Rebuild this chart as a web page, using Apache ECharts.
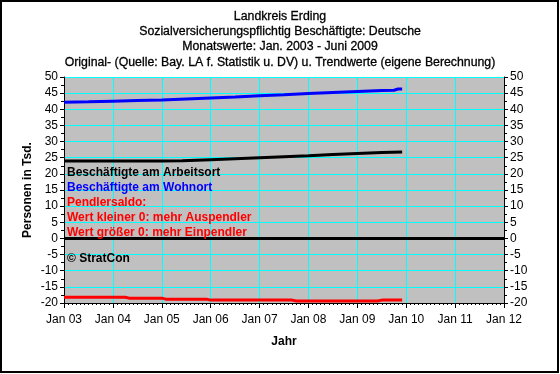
<!DOCTYPE html>
<html>
<head>
<meta charset="utf-8">
<script src="https://cdn.jsdelivr.net/npm/echarts@6/dist/echarts.min.js"></script>
<style>
html,body{margin:0;padding:0;background:#fff;}
#c{width:560px;height:374px;}
</style>
</head>
<body>
<div id="c"></div>
<script>
// ---- data (months since Jan 2003) ----
var titleLines = [
  'Landkreis Erding',
  'Sozialversicherungspflichtig Beschäftigte: Deutsche',
  'Monatswerte: Jan. 2003 - Juni 2009',
  'Original- (Quelle: Bay. LA f. Statistik u. DV) u. Trendwerte (eigene Berechnung)'
];
var tickLabels = ['Jan 03','Jan 04','Jan 05','Jan 06','Jan 07','Jan 08','Jan 09','Jan 10','Jan 11','Jan 12'];
var yTicks = [-20,-15,-10,-5,0,5,10,15,20,25,30,35,40,45,50];

var wohnortMonths = [0, 6, 12, 18, 24, 30, 36, 42, 48, 54, 60, 66, 72, 78, 81, 82, 83];
var wohnortValues = [42.2, 42.3, 42.5, 42.7, 42.9, 43.2, 43.5, 43.8, 44.2, 44.5, 44.9, 45.2, 45.5, 45.8, 45.9, 46.3, 46.3];

var arbeitsortMonths = [0, 12, 24, 29, 36, 42, 48, 54, 60, 66, 72, 78, 83];
var arbeitsortValues = [24.0, 24.0, 24.0, 24.05, 24.4, 24.7, 25.0, 25.3, 25.6, 26.0, 26.3, 26.6, 26.8];

var saldoMonths = [0, 15, 16, 24, 25, 35, 36, 56, 57, 77, 78, 83];
var saldoValues = [-18.2, -18.2, -18.5, -18.5, -18.8, -18.8, -19.1, -19.1, -19.4, -19.4, -19.1, -19.1];

var zeroMonths = [0, 108];
var zeroValues = [0, 0];

var annotations = [
  {text: 'Beschäftigte am Arbeitsort', color: '#000000'},
  {text: 'Beschäftigte am Wohnort', color: '#0000ff'},
  {text: 'Pendlersaldo:', color: '#ff0000'},
  {text: 'Wert kleiner 0: mehr Auspendler', color: '#ff0000'},
  {text: 'Wert größer 0: mehr Einpendler', color: '#ff0000'},
  {text: '© StratCon', color: '#000000'}
];

function pairs(ms, vs){ return ms.map(function(m,i){ return [m, vs[i]]; }); }

var FONT = '"Liberation Sans", Arial, sans-serif';
var chart = echarts.init(document.getElementById('c'));

var annoY = [171, 186, 201, 216, 231, 257];
var graphics = annotations.map(function(a, i){
  return {type:'text', left: 67, top: annoY[i] - 4, z: 100,
    style:{text:a.text, fill:a.color, font:'bold 12px ' + FONT}};
});
graphics.push({type:'rect', shape:{x:1, y:1, width:557, height:371}, z: 100,
  style:{fill:'none', stroke:'#000', lineWidth:2}});

function yAxisCfg(pos){
  return {
    type:'value', position: pos, min:-20, max:50, interval:5,
    axisLine:{show:true, lineStyle:{color:'#000', width:1}},
    axisTick:{show:true, length:4, inside:false, lineStyle:{color:'#000'}},
    minorTick:{show:true, splitNumber:2, length:3, lineStyle:{color:'#000'}},
    axisLabel:{color:'#000', fontFamily:FONT, fontSize:12, margin:6,
      formatter:function(v){ return yTicks.indexOf(v) >= 0 ? String(v) : ''; }},
    splitLine:{show: pos === 'left', lineStyle:{color:'#00ffff', width:1}},
    name: pos === 'left' ? 'Personen in Tsd.' : '',
    nameLocation:'middle', nameGap:30, nameMoveOverlap:false,
    nameTextStyle:{color:'#000', fontFamily:FONT, fontSize:12, fontWeight:'bold'}
  };
}

chart.setOption({
  animation:false,
  backgroundColor:'#ffffff',
  title:{
    text: titleLines.join('\n'), left:'center', top:4,
    textStyle:{color:'#000', fontFamily:FONT, fontSize:12.3, fontWeight:'normal', lineHeight:15.2,
      textBorderColor:'#000', textBorderWidth:0.3}
  },
  grid:{left:64, right:56, top:77, bottom:71, show:true, backgroundColor:'#c0c0c0', borderWidth:0},
  xAxis:{
    type:'value', min:0, max:108, interval:12,
    axisLine:{show:true, onZero:false, lineStyle:{color:'#000', width:1}},
    axisTick:{show:true, length:5, lineStyle:{color:'#000'}},
    minorTick:{show:true, splitNumber:12, length:2, lineStyle:{color:'#000'}},
    axisLabel:{color:'#000', fontFamily:FONT, fontSize:12, margin:11,
      formatter:function(v){ return tickLabels[Math.round(v/12)] || ''; }},
    splitLine:{show:true, lineStyle:{color:'#00ffff', width:1}},
    name:'Jahr', nameLocation:'middle', nameGap:33, nameMoveOverlap:false,
    nameTextStyle:{color:'#000', fontFamily:FONT, fontSize:12, fontWeight:'bold'}
  },
  yAxis:[yAxisCfg('left'), yAxisCfg('right')],
  graphic: graphics,
  series:[
    {type:'line', name:'Null', data:pairs(zeroMonths, zeroValues), showSymbol:false, symbol:'none',
      lineStyle:{color:'#000', width:3}, z:3},
    {type:'line', name:'Beschäftigte am Wohnort', data:pairs(wohnortMonths, wohnortValues), symbol:'none',
      lineStyle:{color:'#0000ff', width:3}, z:4},
    {type:'line', name:'Beschäftigte am Arbeitsort', data:pairs(arbeitsortMonths, arbeitsortValues), symbol:'none',
      lineStyle:{color:'#000000', width:3}, z:4},
    {type:'line', name:'Pendlersaldo', data:pairs(saldoMonths, saldoValues), symbol:'none',
      lineStyle:{color:'#ff0000', width:3}, z:4}
  ]
});
</script>
</body>
</html>
